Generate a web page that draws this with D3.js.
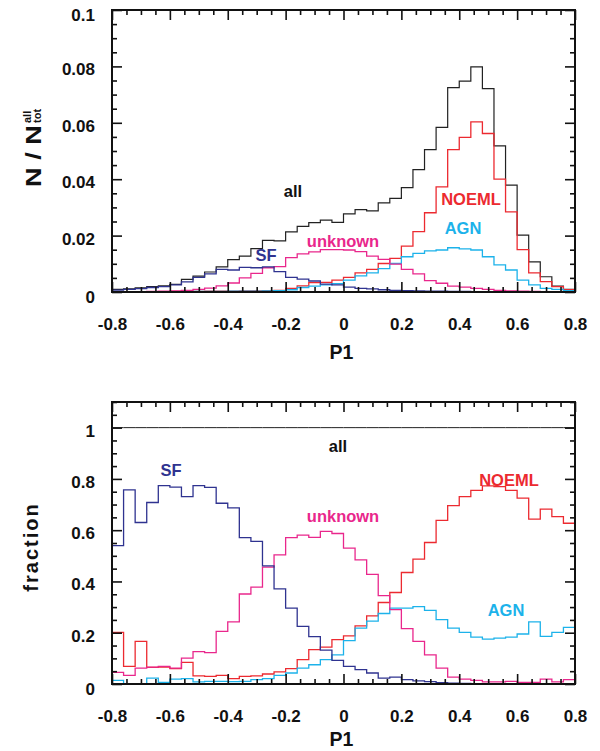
<!DOCTYPE html>
<html><head><meta charset="utf-8">
<script src="https://cdn.jsdelivr.net/npm/d3@7"></script>
<style>
body{margin:0;background:#fff;}
svg text{font-family:"Liberation Sans",Arial,Helvetica,sans-serif;font-weight:bold;}
</style></head><body>
<svg id="c" width="600" height="751"></svg>
<script>
// bin edges of P1 histogram (40 bins of width 0.04)
const binEdges = [-0.8,-0.76,-0.72,-0.68,-0.64,-0.6,-0.56,-0.52,-0.48,-0.44,
  -0.4,-0.36,-0.32,-0.28,-0.24,-0.2,-0.16,-0.12,-0.08,-0.04,
  0,0.04,0.08,0.12,0.16,0.2,0.24,0.28,0.32,0.36,
  0.4,0.44,0.48,0.52,0.56,0.6,0.64,0.68,0.72,0.76,0.8];

// top panel: N / N_tot^all
const topAll = [0.0009,0.0011,0.0015,0.0019,0.0022,0.0027,0.0045,0.0056,0.0071,0.0089,
  0.0115,0.0127,0.0154,0.0183,0.0181,0.0213,0.0233,0.0246,0.0255,0.0247,
  0.0277,0.0292,0.0288,0.0316,0.0332,0.0370,0.0434,0.0505,0.0584,0.0725,
  0.0748,0.0798,0.0721,0.0518,0.0379,0.0202,0.0107,0.0054,0.0021,0.0009];
const topNOEML = [0.0001,0.0001,0.0001,0.0001,0.0001,0.0002,0.0002,0.0002,0.0003,0.0003,
  0.0003,0.0004,0.0004,0.0005,0.0006,0.0013,0.0022,0.0033,0.0034,0.0042,
  0.0052,0.0068,0.0080,0.0101,0.0119,0.0163,0.0214,0.0281,0.0373,0.0505,
  0.0548,0.0603,0.0562,0.0400,0.0284,0.0150,0.0068,0.0037,0.0019,0.0008];
const topAGN = [0.0001,0.0000,0.0001,0.0001,0.0001,0.0001,0.0001,0.0002,0.0002,0.0002,
  0.0003,0.0003,0.0003,0.0004,0.0005,0.0008,0.0016,0.0021,0.0025,0.0030,
  0.0042,0.0057,0.0068,0.0083,0.0101,0.0125,0.0137,0.0146,0.0149,0.0157,
  0.0153,0.0149,0.0125,0.0096,0.0078,0.0042,0.0025,0.0013,0.0009,0.0005];
const topSF = [0.0007,0.0009,0.0012,0.0016,0.0019,0.0025,0.0036,0.0052,0.0064,0.0080,
  0.0078,0.0087,0.0086,0.0089,0.0072,0.0052,0.0046,0.0039,0.0028,0.0025,
  0.0017,0.0013,0.0011,0.0008,0.0006,0.0005,0.0004,0.0003,0.0003,0.0002,
  0.0002,0.0001,0.0001,0.0001,0.0001,0.0000,0.0000,0.0000,0.0000,0.0000];
const topUnknown = [0.0001,0.0001,0.0001,0.0002,0.0003,0.0004,0.0006,0.0009,0.0014,0.0022,
  0.0032,0.0050,0.0066,0.0086,0.0090,0.0122,0.0135,0.0142,0.0150,0.0150,
  0.0149,0.0143,0.0127,0.0116,0.0099,0.0080,0.0064,0.0040,0.0031,0.0021,
  0.0017,0.0013,0.0009,0.0006,0.0004,0.0003,0.0002,0.0001,0.0001,0.0000];

// bottom panel: fraction
const botAll = [1,1,1,1,1,1,1,1,1,1, 1,1,1,1,1,1,1,1,1,1,
  1,1,1,1,1,1,1,1,1,1, 1,1,1,1,1,1,1,1,1,1];
const botSF = [0.540,0.757,0.630,0.708,0.774,0.768,0.731,0.774,0.767,0.705,
  0.687,0.571,0.556,0.461,0.371,0.296,0.225,0.185,0.132,0.092,
  0.069,0.056,0.043,0.023,0.027,0.017,0.012,0.009,0.005,0.003,
  0.002,0.001,0.001,0.000,0.000,0.000,0.000,0.000,0.000,0.000];
const botUnknown = [0.045,0.034,0.062,0.066,0.069,0.062,0.101,0.126,0.122,0.205,
  0.242,0.351,0.378,0.456,0.504,0.571,0.581,0.572,0.595,0.587,
  0.530,0.484,0.428,0.345,0.290,0.216,0.166,0.114,0.062,0.027,
  0.019,0.014,0.008,0.008,0.010,0.006,0.006,0.019,0.008,0.017];
const botNOEML = [0.201,0.069,0.166,0.065,0.066,0.060,0.084,0.032,0.030,0.034,
  0.021,0.030,0.032,0.039,0.047,0.060,0.095,0.134,0.144,0.173,
  0.188,0.227,0.266,0.318,0.357,0.435,0.487,0.552,0.638,0.696,
  0.731,0.755,0.773,0.770,0.755,0.725,0.643,0.682,0.653,0.627];
const botAGN = [0.014,0.001,0.001,0.023,0.006,0.019,0.021,0.008,0.010,0.010,
  0.009,0.010,0.017,0.021,0.034,0.043,0.062,0.075,0.095,0.114,
  0.169,0.218,0.245,0.275,0.296,0.296,0.302,0.287,0.251,0.218,
  0.201,0.183,0.175,0.179,0.183,0.195,0.242,0.186,0.201,0.221];

// ticks
const xTicks = [-0.8,-0.6,-0.4,-0.2,0,0.2,0.4,0.6,0.8];
const xTickLabels = ["-0.8","-0.6","-0.4","-0.2","0","0.2","0.4","0.6","0.8"];
const topYTicks = [0,0.02,0.04,0.06,0.08,0.1];
const topYLabels = ["0","0.02","0.04","0.06","0.08","0.1"];
const botYTicks = [0,0.2,0.4,0.6,0.8,1];
const botYLabels = ["0","0.2","0.4","0.6","0.8","1"];

const colors = {all:"#222222", NOEML:"#ec2a30", AGN:"#1cb2ea", SF:"#2f3390", unknown:"#e9278c"};

const svg = d3.select("#c");
const X0 = 112, X1 = 575;

function minorTicks(lo, hi, step, majors){
  const out=[];
  const n = Math.round((hi-lo)/step);
  for(let i=0;i<=n;i++){
    const v = +(lo + i*step).toFixed(6);
    if(!majors.some(m=>Math.abs(m-v)<1e-9)) out.push(v);
  }
  return out;
}

function panel(cfg){
  const g = svg.append("g");
  const x = d3.scaleLinear().domain([-0.8,0.8]).range([X0,X1]);
  const y = d3.scaleLinear().domain(cfg.ydom).range([cfg.bottom, cfg.top]);
  const line = d3.line().x(d=>x(d[0])).y(d=>y(d[1])).curve(d3.curveStepAfter);

  cfg.series.forEach(s=>{
    const pts = s.vals.map((v,i)=>[binEdges[i], v]);
    pts.push([binEdges[binEdges.length-1], s.vals[s.vals.length-1]]);
    g.append("path").attr("d", line(pts)).attr("fill","none")
      .attr("stroke", s.color).attr("stroke-width", s.w || 1.3);
  });

  const xMinor = minorTicks(-0.8, 0.8, 0.05, xTicks);
  const yMinor = minorTicks(cfg.ydom[0], cfg.ydom[1], cfg.yMinorStep, cfg.yTicks);

  function style(sel){
    sel.select(".domain").remove();
    sel.selectAll("line").attr("stroke","#111").attr("stroke-width",1.6);
    sel.attr("font-size",17).attr("font-family",null);
    sel.selectAll("text").attr("fill","#111");
  }
  g.append("g").attr("transform",`translate(0,${cfg.bottom})`)
    .call(d3.axisBottom(x).tickValues(xTicks).tickSize(-10).tickPadding(26)
      .tickFormat((d,i)=>xTickLabels[i])).call(style);
  g.append("g").attr("transform",`translate(0,${cfg.bottom})`)
    .call(d3.axisBottom(x).tickValues(xMinor).tickSize(-5).tickFormat("")).call(style);
  g.append("g").attr("transform",`translate(0,${cfg.top})`)
    .call(d3.axisTop(x).tickValues(xTicks).tickSize(-10).tickFormat("")).call(style);
  g.append("g").attr("transform",`translate(0,${cfg.top})`)
    .call(d3.axisTop(x).tickValues(xMinor).tickSize(-5).tickFormat("")).call(style);
  const la = g.append("g").attr("transform",`translate(${X0},0)`)
    .call(d3.axisLeft(y).tickValues(cfg.yTicks).tickSize(-10).tickPadding(17)
      .tickFormat((d,i)=>cfg.yLabels[i])).call(style);
  const lastTick = cfg.yTicks[cfg.yTicks.length-1];
  la.selectAll("text").attr("transform", d => {
    let off = 3;
    if (d === cfg.ydom[0]) off = 5;
    if (cfg.edgeTop && d === lastTick) off = 5;
    return `translate(0,${off})`;
  });
  g.append("g").attr("transform",`translate(${X0},0)`)
    .call(d3.axisLeft(y).tickValues(yMinor).tickSize(-5).tickFormat("")).call(style);
  g.append("g").attr("transform",`translate(${X1},0)`)
    .call(d3.axisRight(y).tickValues(cfg.yTicks).tickSize(-10).tickFormat("")).call(style);
  g.append("g").attr("transform",`translate(${X1},0)`)
    .call(d3.axisRight(y).tickValues(yMinor).tickSize(-5).tickFormat("")).call(style);

  g.append("rect").attr("x",X0).attr("y",cfg.top).attr("width",X1-X0).attr("height",cfg.bottom-cfg.top)
    .attr("fill","none").attr("stroke","#111").attr("stroke-width",2);

  cfg.labels.forEach(l=>{
    g.append("text").attr("x",l.x).attr("y",l.y).attr("dy","0.36em")
      .attr("text-anchor","middle").attr("font-size",16.5).attr("fill",l.c).text(l.t);
  });

  g.append("text").attr("x",(X0+X1)/2 - 2).attr("y",cfg.xTitleY).attr("text-anchor","middle")
    .attr("font-size",19.5).attr("fill","#111").text("P1");
  return g;
}

const topPanel = panel({
  top:10, bottom:292, ydom:[0,0.1], yTicks:topYTicks, yLabels:topYLabels, yMinorStep:0.005, edgeTop:true,
  xTitleY:359,
  series:[
    {vals:topAll, color:colors.all, w:1.2},
    {vals:topNOEML, color:colors.NOEML},
    {vals:topAGN, color:colors.AGN},
    {vals:topUnknown, color:colors.unknown},
    {vals:topSF, color:colors.SF}
  ],
  labels:[
    {t:"all", x:293, y:191, c:"#111"},
    {t:"NOEML", x:471, y:199, c:colors.NOEML},
    {t:"AGN", x:463, y:228, c:colors.AGN},
    {t:"unknown", x:343, y:241, c:colors.unknown},
    {t:"SF", x:266, y:255, c:colors.SF}
  ]
});

const botPanel = panel({
  top:402, bottom:684, ydom:[0,1.1], yTicks:botYTicks, yLabels:botYLabels, yMinorStep:0.05, edgeTop:false,
  xTitleY:746,
  series:[
    {vals:botAll, color:colors.all, w:1.0},
    {vals:botNOEML, color:colors.NOEML},
    {vals:botAGN, color:colors.AGN},
    {vals:botUnknown, color:colors.unknown},
    {vals:botSF, color:colors.SF}
  ],
  labels:[
    {t:"all", x:338, y:446, c:"#111"},
    {t:"SF", x:171, y:470, c:colors.SF},
    {t:"unknown", x:343, y:516, c:colors.unknown},
    {t:"NOEML", x:509, y:480, c:colors.NOEML},
    {t:"AGN", x:506, y:610, c:colors.AGN}
  ]
});

// y-axis titles
const t1 = svg.append("g").attr("transform","translate(41,187) rotate(-90)");
t1.append("text").attr("x",0).attr("y",0).attr("font-size",22).attr("fill","#111")
  .attr("textLength",62).attr("lengthAdjust","spacingAndGlyphs").text("N / N");
t1.append("text").attr("x",64).attr("y",-10).attr("font-size",11).attr("fill","#111").text("all");
t1.append("text").attr("x",64).attr("y",0).attr("font-size",11).attr("fill","#111").text("tot");

svg.append("text").attr("transform","translate(38,547) rotate(-90)")
  .attr("text-anchor","middle").attr("font-size",20).attr("letter-spacing","2px")
  .attr("fill","#111").text("fraction");
</script>
</body></html>
